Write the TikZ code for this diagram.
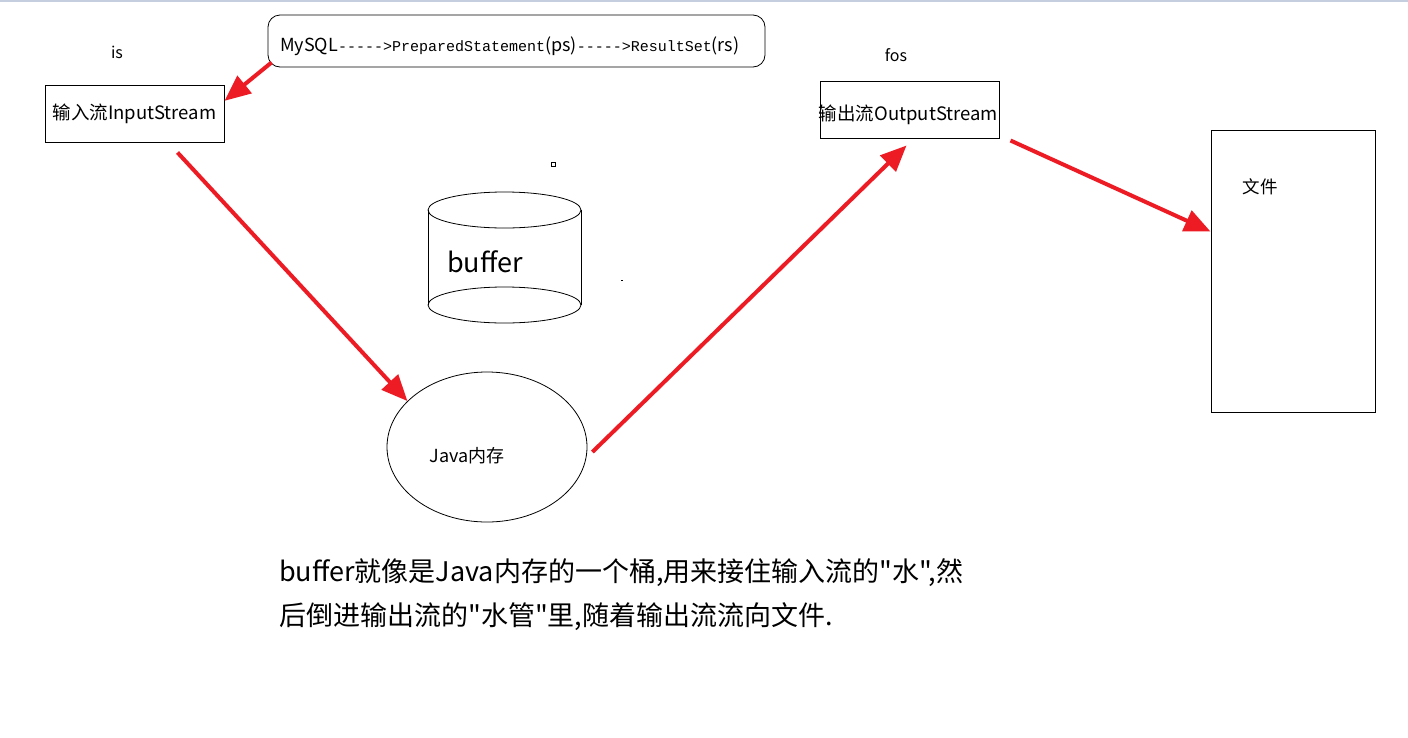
\documentclass[tikz,border=0pt]{standalone}
\usepackage{fontspec}
\setmainfont{Noto Sans CJK SC}[Ligatures=TeXOff]
\newfontfamily\codefont{Liberation Mono}[Ligatures=TeXOff]
\usepackage{xcolor}
\usetikzlibrary{shapes.geometric, arrows.meta, positioning, calc}
\definecolor{flowred}{HTML}{ED1C24}
\definecolor{topline}{HTML}{C5CEDF}

\begin{document}
\begin{tikzpicture}[
    x=1pt, y=-1pt,
    streambox/.style={rectangle, draw=black, line width=1pt, minimum width=179pt, minimum height=57pt, inner sep=0pt, font=\fontsize{18.5}{21}\selectfont},
    plain/.style={inner sep=0pt, font=\fontsize{16}{19}\selectfont},
    flow/.style={-{Triangle[length=26pt, width=22pt]}, line width=4pt, draw=flowred}
]
\useasboundingbox (0,0) rectangle (1408,737);
\fill[topline] (0,0) rectangle (1408,2);

% Source
\node[rectangle, rounded corners=12pt, draw=black, line width=0.8pt, minimum width=497pt, minimum height=52pt, inner sep=0pt] (mysql) at (516.5,41) {};
\node[anchor=west, inner sep=0pt, font=\fontsize{18}{20}\selectfont] (mysqltext) at (280,46)
  {MySQL{\codefont\fontsize{15}{18}\selectfont ----->PreparedStatement}(ps){\codefont\fontsize{15}{18}\selectfont ----->ResultSet}(rs)};

% Streams
\node[plain] (islabel) at (117,52) {is};
\node[streambox] (inbox) at (134.5,113.5) {输入流InputStream};
\node[plain] (foslabel) at (896,55) {fos};
\node[streambox] (outbox) at (909.5,109.5) {};
\node[plain, font=\fontsize{18.5}{21}\selectfont] (outtext) at (908.5,115) {输出流OutputStream};

% Buffer
\draw[line width=0.8pt] (428,210) -- (428,305) (581,210) -- (581,305);
\draw[line width=0.8pt] (504.5,210) ellipse [x radius=76.5pt, y radius=18pt];
\draw[line width=0.8pt] (504.5,305) ellipse [x radius=76.5pt, y radius=18pt];
\node[inner sep=0pt, font=\fontsize{27}{30}\selectfont] (buffer) at (485,262) {buffer};
\draw[line width=0.6pt] (551.5,162.5) rectangle (555,166);
\draw[line width=0.6pt] (621,280) -- (623,280);

% Memory
\node[ellipse, draw=black, line width=0.8pt, minimum width=200pt, minimum height=150pt, inner sep=0pt] (java) at (487,447) {};
\node[inner sep=0pt, font=\fontsize{18}{20}\selectfont] (javalabel) at (467,456) {Java内存};

% File
\node[rectangle, draw=black, line width=1pt, minimum width=164pt, minimum height=282pt, inner sep=0pt] (file) at (1293,271) {};
\node[plain, font=\fontsize{17.5}{20}\selectfont] (filelabel) at (1260,187) {文件};

% Flows
\draw[flow] ($(mysql.south west)+(4,-5)$) -- (inbox.8);
\draw[flow] ($(inbox.south)+(43,10)$) -- (java.150);
\draw[flow] ($(java.east)+(5,5)$) -- ($(outbox.south)+(-3,7)$);
\draw[flow] ($(outbox.south east)+(11,2)$) -- ($(file.north west)+(0,102)$);

% Note
\node[anchor=west, align=left, inner sep=0pt, font=\fontsize{27}{44}\selectfont] (note) at (279,595)
  {buffer就像是Java内存的一个桶,用来接住输入流的"水",然\\后倒进输出流的"水管"里,随着输出流流向文件.};

\end{tikzpicture}
\end{document}
